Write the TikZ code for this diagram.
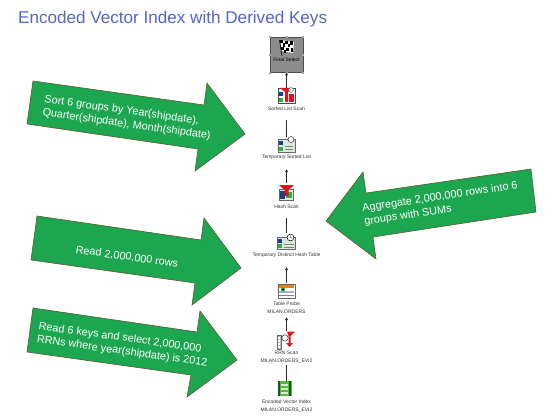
\documentclass[tikz,border=0pt]{standalone}
\usepackage{fontspec}
\setmainfont{Liberation Sans}
\definecolor{bigarrow}{HTML}{1CA650}
\definecolor{arrowedge}{HTML}{5A5A32}
\definecolor{titleblue}{HTML}{5566C8}
\definecolor{boxgray}{HTML}{8C8C8C}
\definecolor{iconred}{HTML}{E0141E}
\definecolor{iconblue}{HTML}{1C3C8C}
\definecolor{icongreen}{HTML}{30B040}
\definecolor{iconpale}{HTML}{DCE8DC}
\tikzset{
  bigarrowshape/.style={fill=bigarrow,draw=arrowedge,line width=0.6pt,line join=miter},
  arrowtext/.style={text=white,font=\fontsize{10.85}{13.3}\selectfont,inner sep=0pt,align=left},
  iconbox/.style={minimum width=17pt,minimum height=15pt,inner sep=0pt,outer sep=0pt},
  steplabel/.style={text=black!80,font=\fontsize{5}{7.6}\selectfont,inner sep=0pt,align=center},
  flowline/.style={draw=black!85,line width=0.55pt},
  flowarrow/.style={flowline,-{Latex[length=3pt,width=3pt]}},
  handle/.style={fill=gray!70,draw=none}
}
\usetikzlibrary{arrows.meta}
\begin{document}
\begin{tikzpicture}[x=1pt,y=-1pt]
\useasboundingbox (0,0) rectangle (560,420);
\fill[white] (0,0) rectangle (560,420);
\node[anchor=west,text=titleblue,font=\fontsize{17.1}{19}\selectfont,inner sep=0pt] (title) at (18,19) {Encoded Vector Index with Derived Keys};

% big green arrows
\draw[bigarrowshape] (33,81) -- (204,105) -- (207,83) -- (245,134) -- (195,171) -- (198,149) -- (27,124) -- cycle;
\draw[bigarrowshape] (37,216) -- (201,240) -- (204,218) -- (241,268) -- (192,305) -- (195,283) -- (31,260) -- cycle;
\draw[bigarrowshape] (33,308) -- (197,332) -- (200,311) -- (237,360) -- (187,397) -- (191,375) -- (27,352) -- cycle;
\draw[bigarrowshape] (531,169) -- (536,212) -- (373,237) -- (376,259) -- (326,221) -- (363,172) -- (366,193) -- cycle;

\node[arrowtext,rotate=-8] (sorttext) at (127.5,118) {Sort 6 groups by Year(shipdate),\\Quarter(shipdate), Month(shipdate)};
\node[arrowtext,rotate=-8] (readtext) at (127,257) {Read 2,000,000 rows};
\node[arrowtext,rotate=-8] (keystext) at (123,345) {Read 6 keys and select 2,000,000\\RRNs where year(shipdate) is 2012};
\node[arrowtext,rotate=8.5] (aggtext) at (441,204) {Aggregate 2,000,000 rows into 6\\groups with SUMs};

% plan nodes
\node[minimum width=33pt,minimum height=35pt,inner sep=0pt,outer sep=0pt,fill=boxgray,draw=black!70,line width=0.5pt] (finalbox) at (286.5,55) {};
\foreach \px/\py in {270/37,286.5/37,303/37,270/55,303/55,270/73,286.5/73,303/73}
  \fill[handle] (\px-1,\py-1) rectangle (\px+1,\py+1);
% flag
\fill[white] (280,40) -- (294,42) -- (293,53) -- (282,51) -- cycle;
\foreach \fx/\fy in {280/40,285/40.7,290/41.4,282.5/43.5,287.5/44.2,281/47,286/47.7,290.5/48.4,283.5/50}
  \fill[black] (\fx,\fy) rectangle (\fx+2.6,\fy+3.3);
\draw[black,line width=0.6pt] (279.5,40) -- (282,56);
\node[steplabel,text=black] (finallabel) at (286.5,60) {Final Select};

\node[iconbox] (sortedicon) at (286.5,95.5) {};
\fill[white,draw=black!70,line width=0.3pt] (278,88) rectangle (295,103);
\fill[iconblue] (279,92) rectangle (283,96);
\fill[icongreen] (279,98) rectangle (283,102);
\fill[iconred] (280,88) -- (293,88) -- (288,92) -- (288,102) -- (285,102) -- (285,92) -- cycle;
\fill[iconred] (289,94) rectangle (294,102);
\draw[black!70,fill=white,line width=0.3pt] (291,90) circle (2.4);
\node[steplabel] (sortedlabel) at (286.5,109) {Sorted List Scan};

\node[iconbox] (tempicon) at (286.5,144.5) {};
\fill[iconpale,draw=black!60,line width=0.3pt] (278,139) rectangle (295,152);
\fill[iconblue] (279,140.5) rectangle (283,144.5);
\fill[icongreen] (279,146.5) rectangle (283,150.5);
\draw[black!50,line width=0.6pt] (285,146) -- (293,146) (285,149) -- (293,149);
\draw[black,fill=white,line width=0.4pt] (291,139.5) circle (3);
\node[steplabel] (templabel) at (286.5,157.5) {Temporary Sorted List};

\node[iconbox] (hashicon) at (286.5,192.5) {};
\fill[iconpale,draw=black!60,line width=0.3pt] (279,189) rectangle (293,200);
\fill[iconblue] (280,191) rectangle (285,199);
\fill[icongreen] (286,192) rectangle (292,198);
\fill[iconred] (279,185) -- (294,185) -- (288.5,190) -- (288.5,196) -- (284.5,196) -- (284.5,190) -- cycle;
\node[steplabel] (hashlabel) at (286.5,207) {Hash Scan};

\node[iconbox] (distincticon) at (286.5,242) {};
\fill[iconpale,draw=black!60,line width=0.3pt] (277,237) rectangle (295,249);
\fill[iconblue] (278,238.5) rectangle (282,242.5);
\fill[icongreen] (278,244) rectangle (282,248);
\draw[black!50,line width=0.6pt] (284,244) -- (294,244) (284,247) -- (294,247);
\draw[black,fill=white,line width=0.5pt] (290.5,237.5) circle (3.4);
\draw[black,line width=0.4pt] (290.5,235.5) -- (290.5,237.5) -- (292,238);
\node[steplabel] (distinctlabel) at (286.5,255.5) {Temporary Distinct Hash Table};

\node[iconbox] (probeicon) at (286.5,291) {};
\fill[white,draw=black!60,line width=0.3pt] (278,284) rectangle (295,298);
\fill[orange!70!brown] (279,285) rectangle (294,287.5);
\fill[iconblue!40] (279,291) rectangle (294,293);
\draw[black!50,line width=0.5pt] (279,295) -- (294,295);
\fill[icongreen] (283,289.5) circle (2.2);
\fill[black] (283,289.5) circle (1);
\node[steplabel] (probelabel) at (286.5,308) {Table Probe\\MILAN.ORDERS};

\node[iconbox] (rrnicon) at (286.5,338.5) {};
\fill[gray!50,draw=black!60,line width=0.3pt] (277,335) rectangle (281,349);
\foreach \ry in {337,340,343,346} \fill[white] (278,\ry) rectangle (280,\ry+1.5);
\draw[black,fill=white,line width=0.4pt] (285,338) circle (3.2);
\fill[iconred] (287,331.5) -- (295,331.5) -- (290.5,336) -- (290.5,343) -- (293,343) -- (289.5,347) -- (286,343) -- (288.5,343) -- (288.5,336) -- cycle;
\node[steplabel] (rrnlabel) at (286.5,357) {RRN Scan\\MILAN.ORDERS\_EVI2};

\node[iconbox] (eviicon) at (285,388.5) {};
\fill[icongreen!80!lime] (278,381) rectangle (292,396);
\fill[icongreen!50!black] (278,381) rectangle (280,396);
\fill[icongreen!50!black] (289,381) rectangle (291,396);
\foreach \ey in {384,388,392} \fill[iconpale] (281,\ey) rectangle (288,\ey+1.6);
\node[steplabel] (evilabel) at (286.5,406) {Encoded Vector Index\\MILAN.ORDERS\_EVI2};

% connectors
\coordinate (sortedtop) at (286.5,88);
\draw[flowarrow] (sortedtop) -- (finalbox.south);
\coordinate (line1top) at (286.5,120);
\coordinate (tempicontop) at (286.5,137);
\draw[flowline] (tempicontop) -- (line1top);
\coordinate (arrow2base) at (286.5,183);
\coordinate (arrow2tip) at (286.5,169);
\draw[flowarrow] (arrow2base) -- (arrow2tip);
\coordinate (line2base) at (286.5,233);
\coordinate (line2top) at (286.5,218);
\draw[flowline] (line2base) -- (line2top);
\coordinate (arrow3base) at (286.5,283);
\coordinate (arrow3tip) at (286.5,267);
\draw[flowarrow] (arrow3base) -- (arrow3tip);
\coordinate (arrow4base) at (286.5,331);
\coordinate (arrow4tip) at (286.5,317);
\draw[flowarrow] (arrow4base) -- (arrow4tip);
\coordinate (line3base) at (286.5,381);
\coordinate (line3top) at (286.5,365);
\draw[flowline] (line3base) -- (line3top);
\end{tikzpicture}
\end{document}
